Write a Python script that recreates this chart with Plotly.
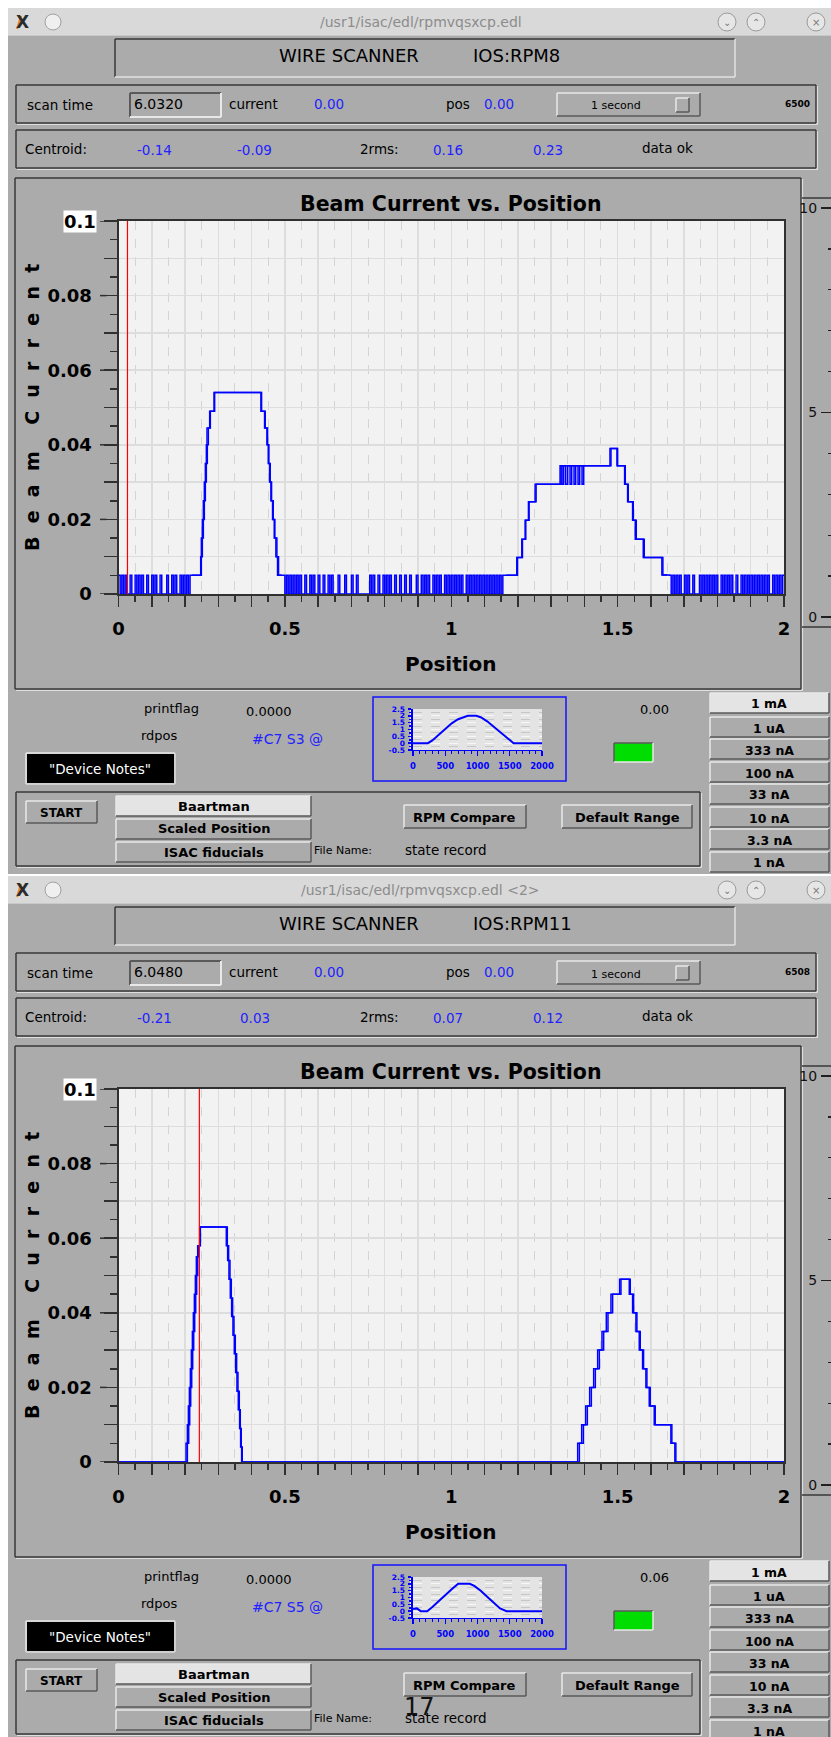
import plotly.graph_objects as go

# ------------------------------------------------------------------ data
window_titles = ["/usr1/isac/edl/rpmvqsxcp.edl", "/usr1/isac/edl/rpmvqsxcp.edl <2>"]
device_names = ["IOS:RPM8", "IOS:RPM11"]
scan_times = ["6.0320", "6.0480"]
point_counts = ["6500", "6508"]
current_values = ["0.00", "0.00"]
pos_values = ["0.00", "0.00"]
centroid_x = ["-0.14", "-0.21"]
centroid_y = ["-0.09", "0.03"]
rms2_x = ["0.16", "0.07"]
rms2_y = ["0.23", "0.12"]
printflags = ["0.0000", "0.0000"]
rdpos_labels = ["#C7 S3 @", "#C7 S5 @"]
readback_values = ["0.00", "0.06"]
cursor_positions = [0.027, 0.243]
range_buttons = ["1 mA", "1 uA", "333 nA", "100 nA", "33 nA", "10 nA", "3.3 nA", "1 nA"]
position_tick_labels = {0.0: "0", 0.5: "0.5", 1.0: "1", 1.5: "1.5", 2.0: "2"}
current_tick_labels = {0.0: "0", 0.02: "0.02", 0.04: "0.04", 0.06: "0.06", 0.08: "0.08"}
right_tick_labels = {0: "0", 5: "5", 10: "10"}

# RPM8 scan: noise flags (0 / 1 level) on a 0.005 sampling grid + hump step breakpoints
rpm8_noise_level = 0.005
rpm8_noise_step = 0.005
rpm8_noise_a_start = 0.0
rpm8_noise_a = "101010 0100 10101 00100 101001 000 10010 1001 0101011"
rpm8_peak1_x = [0.225, 0.247, 0.249, 0.252, 0.255, 0.258, 0.261, 0.264, 0.266, 0.274, 0.287,
                0.430, 0.441, 0.448, 0.452, 0.456, 0.460, 0.465, 0.470, 0.476, 0.481]
rpm8_peak1_y = [0.005, 0.010, 0.015, 0.020, 0.025, 0.030, 0.035, 0.040, 0.0445, 0.049, 0.054,
                0.049, 0.0445, 0.040, 0.035, 0.030, 0.025, 0.020, 0.015, 0.010, 0.005]
rpm8_noise_b_start = 0.495
rpm8_noise_b = ("10101 01010 1 00100 10100 10010 01010 00100 01000 1001 00000 00 "
                "10100 10010 10100 1001 00100 10001 0010 10100 10101 00101 0 "
                "10101 01001 01010 10101 01010 10101 01")
rpm8_peak2_x = [1.160, 1.197, 1.212, 1.222, 1.232, 1.252,
                1.327, 1.333, 1.338, 1.344, 1.350, 1.357, 1.362, 1.369, 1.374, 1.381, 1.386, 1.393, 1.398,
                1.477, 1.500, 1.523, 1.532, 1.547, 1.556, 1.577, 1.633]
rpm8_peak2_y = [0.005, 0.0098, 0.0147, 0.0198, 0.0247, 0.0294,
                0.0344, 0.0294, 0.0344, 0.0294, 0.0344, 0.0294, 0.0344, 0.0294, 0.0344, 0.0294, 0.0344,
                0.0294, 0.0344,
                0.039, 0.0344, 0.0294, 0.0247, 0.0198, 0.0147, 0.0098, 0.0051]
rpm8_noise_c_start = 1.656
rpm8_noise_c = "10101 01001 010 01000 1 01010 10101 00101 01010 01001 01010 10101 01010 10010 10101"
rpm8_back_x = [0.220, 0.249, 0.252, 0.255, 0.258, 0.261, 0.264, 0.267, 0.270, 0.276, 0.289,
               0.428, 0.439, 0.446, 0.450, 0.454, 0.458, 0.463, 0.468, 0.473, 0.478, 0.490, None,
               1.165, 1.199, 1.214, 1.224, 1.234, 1.255, 1.330, 1.480, 1.498, 1.521, 1.530,
               1.545, 1.553, 1.580, 1.636, 1.650]
rpm8_back_y = [0.005, 0.010, 0.015, 0.020, 0.025, 0.030, 0.035, 0.040, 0.0445, 0.049, 0.054,
               0.049, 0.0445, 0.040, 0.035, 0.030, 0.025, 0.020, 0.015, 0.010, 0.005, 0.005, None,
               0.005, 0.0098, 0.0147, 0.0198, 0.0247, 0.0294, 0.0344, 0.039, 0.0344, 0.0294, 0.0247,
               0.0198, 0.0147, 0.0098, 0.0051, 0.0051]

# RPM11 scan: forward and backward step breakpoints
rpm11_fwd_x = [0.000, 0.207, 0.211, 0.214, 0.217, 0.220, 0.223, 0.226, 0.229, 0.232, 0.235, 0.238,
               0.241, 0.246, 0.324, 0.328, 0.332, 0.336, 0.340, 0.344, 0.348, 0.352, 0.356, 0.360,
               0.364, 0.367, 0.370,
               1.385, 1.397, 1.409, 1.421, 1.433, 1.445, 1.458, 1.471, 1.485, 1.510,
               1.535, 1.545, 1.555, 1.565, 1.575, 1.585, 1.595, 1.610, 1.660, 1.672, 2.000]
rpm11_fwd_y = [0.0, 0.005, 0.010, 0.015, 0.020, 0.025, 0.030, 0.035, 0.040, 0.045, 0.050, 0.055,
               0.058, 0.063, 0.058, 0.054, 0.049, 0.044, 0.039, 0.034, 0.029, 0.024, 0.019, 0.014,
               0.009, 0.004, 0.0,
               0.005, 0.010, 0.015, 0.020, 0.025, 0.030, 0.035, 0.040, 0.045, 0.049,
               0.045, 0.040, 0.035, 0.030, 0.025, 0.020, 0.015, 0.010, 0.005, 0.0, 0.0]
rpm11_back_x = [0.000, 0.203, 0.207, 0.210, 0.213, 0.216, 0.219, 0.222, 0.225, 0.228, 0.231, 0.234,
                0.238, 0.244, 0.327, 0.331, 0.335, 0.339, 0.343, 0.347, 0.351, 0.355, 0.359, 0.363,
                0.366, 0.369, 0.372,
                1.380, 1.392, 1.404, 1.416, 1.428, 1.440, 1.453, 1.466, 1.480, 1.506,
                1.538, 1.548, 1.558, 1.568, 1.578, 1.588, 1.598, 1.613, 1.663, 1.675, 2.000]
rpm11_back_y = [0.0, 0.005, 0.010, 0.015, 0.020, 0.025, 0.030, 0.035, 0.040, 0.045, 0.050, 0.055,
                0.058, 0.063, 0.058, 0.054, 0.049, 0.044, 0.039, 0.034, 0.029, 0.024, 0.019, 0.014,
                0.009, 0.004, 0.0,
                0.005, 0.010, 0.015, 0.020, 0.025, 0.030, 0.035, 0.040, 0.045, 0.049,
                0.045, 0.040, 0.035, 0.030, 0.025, 0.020, 0.015, 0.010, 0.005, 0.0, 0.0]

# mini profile charts
mini1_x = [0, 230, 300, 400, 500, 600, 700, 800, 850, 980, 1050, 1150, 1250, 1350, 1450, 1560, 2000]
mini1_y = [0, 0, 0.2, 0.6, 1.05, 1.45, 1.75, 1.95, 2.0, 2.0, 1.9, 1.6, 1.2, 0.8, 0.4, 0.0, 0.0]
mini2_x = [0, 60, 120, 220, 300, 400, 500, 600, 700, 880, 950, 1050, 1150, 1250, 1350, 1450, 2000]
mini2_y = [0.15, 0.2, 0.0, 0.0, 0.3, 0.75, 1.2, 1.6, 2.0, 2.0, 1.85, 1.5, 1.05, 0.6, 0.2, 0.0, 0.0]
mini_x_labels = {0: "0", 500: "500", 1000: "1000", 1500: "1500", 2000: "2000"}
mini_y_labels = {-0.5: "-0.5", 0: "0", 0.5: "0.5", 1: "1", 1.5: "1.5", 2: "2", 2.5: "2.5"}

# ------------------------------------------------------------------ helpers
FONT = "DejaVu Sans"
W, H = 831, 1737
GRAY = "#ababab"
DARK = "#383838"
LIGHT = "#e8e8e8"
BLUE_TXT = "#2222ff"


def X(p):
    return p / W


def Y(p):
    return 1 - p / H


shapes = []
annos = []


def rect(x0, y0, x1, y1, fill=None, lc=None, lw=1.0):
    shapes.append(dict(type="rect", xref="paper", yref="paper", x0=X(x0), x1=X(x1), y0=Y(y1), y1=Y(y0),
                       fillcolor=fill or "rgba(0,0,0,0)",
                       line=dict(color=lc or "rgba(0,0,0,0)", width=lw if lc else 0), layer="below"))


def seg(x0, y0, x1, y1, color, lw=1.0, layer="below"):
    shapes.append(dict(type="line", xref="paper", yref="paper", x0=X(x0), x1=X(x1), y0=Y(y0), y1=Y(y1),
                       line=dict(color=color, width=lw), layer=layer))


def circle(cx, cy, r, fill, lc):
    shapes.append(dict(type="circle", xref="paper", yref="paper", x0=X(cx - r), x1=X(cx + r),
                       y0=Y(cy + r), y1=Y(cy - r), fillcolor=fill, line=dict(color=lc, width=1), layer="below"))


def text(x, y, s, size=13.5, color="black", bold=False, anchor="left", angle=0, bg=None):
    d = dict(x=X(x), y=Y(y), xref="paper", yref="paper", text=s, showarrow=False, xanchor=anchor,
             yanchor="middle", textangle=angle, borderpad=0,
             font=dict(family=FONT, size=size, color=color, weight="bold" if bold else "normal"))
    if bg:
        d["bgcolor"] = bg
    annos.append(d)


def raised(x0, y0, x1, y1, fill=GRAY):
    rect(x0, y0, x1, y1, fill=fill)
    seg(x0, y0, x1, y0, LIGHT, 1.5)
    seg(x0, y0, x0, y1, LIGHT, 1.5)
    seg(x0, y1, x1, y1, "#5a5a5a", 1.5)
    seg(x1, y0, x1, y1, "#5a5a5a", 1.5)


def sunken(x0, y0, x1, y1, fill=GRAY):
    rect(x0, y0, x1, y1, fill=fill)
    seg(x0, y0, x1, y0, "#5a5a5a", 2)
    seg(x0, y0, x0, y1, "#5a5a5a", 2)
    seg(x0, y1, x1, y1, LIGHT, 2)
    seg(x1, y0, x1, y1, LIGHT, 2)


def etched(x0, y0, x1, y1):
    seg(x0, y0, x1, y0, DARK, 1.5)
    seg(x0, y0, x0, y1, DARK, 1.5)
    seg(x0, y1, x1, y1, DARK, 1.5)
    seg(x1, y0, x1, y1, DARK, 1.5)
    seg(x0 + 1, y1 + 1.5, x1 + 1.5, y1 + 1.5, "#dedede", 1.2)
    seg(x1 + 1.5, y0 + 1, x1 + 1.5, y1 + 1.5, "#dedede", 1.2)


def noise_points(start, step, flags, level):
    flags = flags.replace(" ", "")
    xs = [round(start + i * step, 4) for i in range(len(flags))]
    ys = [level * int(c) for c in flags]
    return xs, ys


# ------------------------------------------------------------------ traces
fig = go.Figure()

a_x, a_y = noise_points(rpm8_noise_a_start, rpm8_noise_step, rpm8_noise_a, rpm8_noise_level)
b_x, b_y = noise_points(rpm8_noise_b_start, rpm8_noise_step, rpm8_noise_b, rpm8_noise_level)
c_x, c_y = noise_points(rpm8_noise_c_start, rpm8_noise_step, rpm8_noise_c, rpm8_noise_level)
rpm8_x = a_x + rpm8_peak1_x + b_x + rpm8_peak2_x + c_x + [2.0]
rpm8_y = a_y + rpm8_peak1_y + b_y + rpm8_peak2_y + c_y + [c_y[-1]]

scans = [
    [(rpm8_x, rpm8_y), (rpm8_back_x, rpm8_back_y)],
    [(rpm11_fwd_x, rpm11_fwd_y), (rpm11_back_x, rpm11_back_y)],
]
minis = [(mini1_x, mini1_y), (mini2_x, mini2_y)]

DY = 868
layout_axes = {}

for w in range(2):
    dy = DY * w
    xm, ym = f"x{1 + 3 * w}", f"y{1 + 3 * w}"
    xs_, ys_ = f"x{2 + 3 * w}", f"y{2 + 3 * w}"
    xn, yn = f"x{3 + 3 * w}", f"y{3 + 3 * w}"
    kxm, kym = f"xaxis{1 + 3 * w}", f"yaxis{1 + 3 * w}"
    kxs, kys = f"xaxis{2 + 3 * w}", f"yaxis{2 + 3 * w}"
    kxn, kyn = f"xaxis{3 + 3 * w}", f"yaxis{3 + 3 * w}"

    for sx, sy in scans[w]:
        fig.add_trace(go.Scatter(x=sx, y=sy, mode="lines", line=dict(color="#0000ff", width=1.5, shape="hv"),
                                 xaxis=xm, yaxis=ym, hoverinfo="skip", showlegend=False, connectgaps=False))
    fig.add_trace(go.Scatter(x=[cursor_positions[w], cursor_positions[w]], y=[0, 0.1], mode="lines",
                             line=dict(color="#ff0000", width=1.2), xaxis=xm, yaxis=ym,
                             hoverinfo="skip", showlegend=False))
    fig.add_trace(go.Scatter(x=[0.5], y=[5], mode="markers", marker=dict(opacity=0), xaxis=xs_, yaxis=ys_,
                             hoverinfo="skip", showlegend=False))
    fig.add_trace(go.Scatter(x=minis[w][0], y=minis[w][1], mode="lines", line=dict(color="#0000ff", width=2),
                             xaxis=xn, yaxis=yn, hoverinfo="skip", showlegend=False))

    xt = [round(i * 0.1, 2) for i in range(21)]
    xminor = [round(0.05 + i * 0.1, 2) for i in range(20)]
    yt = [round(i * 0.01, 2) for i in range(11)]
    yminor = [round(0.005 + i * 0.01, 3) for i in range(10)]
    common = dict(automargin=False, zeroline=False)
    layout_axes[kxm] = dict(
        domain=[X(118.5), X(784)], range=[0, 2], anchor=ym, tickmode="array", tickvals=xt,
        ticktext=[position_tick_labels.get(v, "") for v in xt], ticks="outside", ticklen=11, tickwidth=1.5,
        tickcolor="#303030", showgrid=True, gridcolor="#dddddd", gridwidth=1.5, showline=True,
        linecolor="#303030", linewidth=2, mirror=True, ticklabelstandoff=6,
        tickfont=dict(family=FONT, size=18, color="black", weight="bold"),
        minor=dict(tickvals=xminor, ticks="outside", ticklen=6, tickcolor="#303030", tickwidth=1.5,
                   showgrid=True, gridcolor="#d4d4d4", griddash="dash", gridwidth=1), **common)
    layout_axes[kym] = dict(
        domain=[Y(594 + dy), Y(221 + dy)], range=[0, 0.1], anchor=xm, tickmode="array", tickvals=yt,
        ticktext=[current_tick_labels.get(v, "") for v in yt], ticks="outside", ticklen=13, tickwidth=1.5,
        tickcolor="#303030", showgrid=True, gridcolor="#dddddd", gridwidth=1.5, showline=True,
        linecolor="#303030", linewidth=2, mirror=True, ticklabelstandoff=8,
        tickfont=dict(family=FONT, size=18, color="black", weight="bold"),
        minor=dict(tickvals=yminor, ticks="outside", ticklen=7, tickcolor="#303030", tickwidth=1.5,
                   showgrid=False), **common)
    layout_axes[kxs] = dict(domain=[X(803), 1.0], range=[0, 1], anchor=ys_, visible=False, **common)
    layout_axes[kys] = dict(
        domain=[Y(617 + dy), Y(208 + dy)], range=[0, 10], anchor="free", position=1.0, side="left",
        tickmode="array", tickvals=list(right_tick_labels.keys()),
        ticktext=list(right_tick_labels.values()), ticks="outside", ticklen=10, tickcolor="#202020",
        tickwidth=1.2, showgrid=False, showline=False, ticklabelstandoff=1,
        tickfont=dict(family=FONT, size=14, color="#111111"),
        minor=dict(dtick=1, ticks="outside", ticklen=3, tickcolor="#202020", tickwidth=1.2), **common)
    layout_axes[kxn] = dict(
        domain=[X(413), X(542)], range=[0, 2000], anchor=yn, tickmode="array",
        tickvals=list(mini_x_labels.keys()), ticktext=list(mini_x_labels.values()), ticks="outside",
        ticklen=5, tickcolor="#0000ff", tickwidth=1.2, showgrid=False, showline=True, linecolor="#0000ff",
        linewidth=1, ticklabelstandoff=3,
        tickfont=dict(family=FONT, size=8.5, color="#0000ff", weight="bold"),
        minor=dict(dtick=100, ticks="outside", ticklen=3, tickcolor="#0000ff", tickwidth=1), **common)
    layout_axes[kyn] = dict(
        domain=[Y(750 + dy), Y(709 + dy)], range=[-0.5, 2.5], anchor=xn, tickmode="array",
        tickvals=list(mini_y_labels.keys()), ticktext=list(mini_y_labels.values()), ticks="outside",
        ticklen=3, tickcolor="#0000ff", tickwidth=1.5, showgrid=True, gridcolor="#f7f7f7", griddash="dash",
        showline=True, linecolor="#0000ff", linewidth=2.5, ticklabelstandoff=1,
        tickfont=dict(family=FONT, size=7.5, color="#0000ff", weight="bold"),
        minor=dict(dtick=0.25, ticks="outside", ticklen=2, tickcolor="#0000ff", showgrid=True,
                   gridcolor="#c6c6c6", griddash="dash"), **common)

    # ---------------- window chrome
    top = 8 + dy
    rect(8, top, W, top + 28, fill="#d9d9d9")
    seg(8, top + 28, W, top + 28, "#b8b8b8", 1)
    rect(8, top + 28, W, 874 + dy if w == 0 else H, fill=GRAY)
    text(22, top + 14, "X", size=17, color="#2b2b2b", bold=True, anchor="center")
    seg(17, top + 21, 21, top + 8, "#e08a1e", 2)
    circle(53, top + 14, 8, "#efefef", "#a0a0a0")
    for cx, g in ((727, "\u2304"), (756, "\u2303"), (816, "\u00d7")):
        circle(cx, top + 14, 9, "#e6e6e6", "#9a9a9a")
        text(cx, top + 14, g, size=10, color="#7a7a7a", anchor="center")
    text(421, top + 14, window_titles[w], size=14, color="#8c8c8c", anchor="center")

    # header
    seg(115, 39 + dy, 735, 39 + dy, DARK, 1.5)
    seg(115, 39 + dy, 115, 77 + dy, DARK, 1.5)
    seg(115, 77 + dy, 735, 77 + dy, "#e2e2e2", 1.5)
    seg(735, 39 + dy, 735, 77 + dy, "#e2e2e2", 1.5)
    text(278, 55 + dy, "WIRE SCANNER", size=18)
    text(472, 55 + dy, device_names[w], size=18)

    # row: scan time
    etched(16, 85 + dy, 816, 123 + dy)
    text(26, 105 + dy, "scan time", size=13.5)
    sunken(130, 93 + dy, 221, 117 + dy)
    text(133, 104 + dy, scan_times[w], size=14)
    text(228, 104 + dy, "current", size=13.5)
    text(313, 104 + dy, current_values[w], size=13.5, color=BLUE_TXT)
    text(445, 104 + dy, "pos", size=13.5)
    text(483, 104 + dy, pos_values[w], size=13.5, color=BLUE_TXT)
    raised(557, 93 + dy, 700, 116 + dy)
    text(616, 106 + dy, "1 second", size=11, anchor="center")
    raised(676, 98 + dy, 689, 112 + dy)
    text(797, 104 + dy, point_counts[w], size=9, bold=True, anchor="center")

    # row: centroid
    etched(16, 130 + dy, 816, 168 + dy)
    text(24, 149 + dy, "Centroid:", size=13.5)
    text(154, 150 + dy, centroid_x[w], size=13.5, color=BLUE_TXT, anchor="center")
    text(255, 150 + dy, centroid_y[w], size=13.5, color=BLUE_TXT, anchor="center")
    text(379, 149 + dy, "2rms:", size=13.5, anchor="center")
    text(448, 150 + dy, rms2_x[w], size=13.5, color=BLUE_TXT, anchor="center")
    text(548, 150 + dy, rms2_y[w], size=13.5, color=BLUE_TXT, anchor="center")
    text(667, 148 + dy, "data ok", size=13.5, anchor="center")

    # plot panel
    etched(15, 178 + dy, 801, 689 + dy)
    seg(802, 198 + dy, W, 198 + dy, DARK, 1.5)
    seg(802, 627 + dy, W, 627 + dy, DARK, 1.5)
    rect(118.5, 221 + dy, 784, 594 + dy, fill="#f2f2f2")
    text(450, 204 + dy, "Beam Current vs. Position", size=20.5, bold=True, anchor="center")
    text(451, 664 + dy, "Position", size=20, bold=True, anchor="center")
    sp = "\u00a0\u00a0"
    text(32, 408 + dy, sp.join("Beam") + sp + "\u00a0\u00a0" + sp.join("Current"), size=19, bold=True,
         anchor="center", angle=-90)
    text(80, 221 + dy, "0.1", size=18, bold=True, anchor="center", bg="white")
    for v in [0.0, 0.02, 0.04, 0.06, 0.08, 0.1]:
        shapes.append(dict(type="line", xref="paper", yref=ym, x0=X(100), x1=X(106.5), y0=v, y1=v,
                           line=dict(color="#303030", width=1.5), layer="above"))

    # lower section
    text(143, 708 + dy, "printflag", size=13)
    text(245, 711 + dy, printflags[w], size=13)
    text(140, 735 + dy, "rdpos", size=13)
    text(251, 739 + dy, rdpos_labels[w], size=14, color=BLUE_TXT)
    rect(26, 753 + dy, 175, 784 + dy, fill="black")
    seg(26, 753 + dy, 175, 753 + dy, "#d8d8d8", 2)
    seg(26, 753 + dy, 26, 784 + dy, "#d8d8d8", 2)
    seg(26, 784 + dy, 175, 784 + dy, "#d0d0d0", 2)
    seg(175, 753 + dy, 175, 784 + dy, "#d0d0d0", 2)
    text(100, 769 + dy, "\"Device Notes\"", size=13.5, color="white", anchor="center")
    rect(373, 697 + dy, 566, 781 + dy, lc="#1515ff", lw=1.5)
    rect(410, 709 + dy, 542, 750 + dy, fill="#e4e4e4")
    text(654, 709 + dy, readback_values[w], size=13, anchor="center")
    rect(614, 743 + dy, 653, 762 + dy, fill="#00dd00")
    seg(614, 743 + dy, 653, 743 + dy, "#5a5a5a", 1.5)
    seg(614, 743 + dy, 614, 762 + dy, "#5a5a5a", 1.5)
    seg(614, 762 + dy, 653, 762 + dy, LIGHT, 1.5)
    seg(653, 743 + dy, 653, 762 + dy, LIGHT, 1.5)

    centers = [703, 727, 749, 772, 794, 817, 839, 862]
    for i, (lab, cy) in enumerate(zip(range_buttons, centers)):
        raised(710, cy - 10 + dy, 829, cy + 10 + dy, fill="#e4e4e4" if i == 0 else GRAY)
        text(769, cy + 1 + dy, lab, size=12.5, bold=True, anchor="center")

    etched(16, 792 + dy, 700, 866 + dy)
    raised(26, 801 + dy, 97, 823 + dy)
    text(61.5, 813 + dy, "START", size=12, bold=True, anchor="center")
    for i, (lab, y0) in enumerate((("Baartman", 796), ("Scaled Position", 819), ("ISAC fiducials", 842))):
        raised(116, y0 + dy, 311, y0 + 20 + dy, fill="#e4e4e4" if i == 0 else GRAY)
        text(213.5, y0 + 10 + dy, lab, size=13, bold=True, anchor="center")
    raised(404, 805 + dy, 526, 828 + dy)
    text(465, 817 + dy, "RPM Compare", size=13, bold=True, anchor="center")
    raised(562, 805 + dy, 692, 828 + dy)
    text(627, 817 + dy, "Default Range", size=13, bold=True, anchor="center")
    text(313, 850 + dy, "File Name:", size=11)
    text(404, 850 + dy, "state record", size=13.5)

text(419, 1707, "17", size=24, color="#111111", anchor="center")

fig.update_layout(
    template="none",
    width=W, height=H, margin=dict(l=0, r=0, t=0, b=0, pad=0, autoexpand=False), autosize=False,
    paper_bgcolor="white", plot_bgcolor="rgba(0,0,0,0)", showlegend=False,
    shapes=shapes, annotations=annos, **layout_axes)

fig.write_html(
    "out.html",
    config={"displayModeBar": False, "staticPlot": True},
    post_script=("document.body.style.margin='0';document.body.style.padding='0';"
                 "document.body.style.overflow='hidden';document.documentElement.style.overflow='hidden';"))
